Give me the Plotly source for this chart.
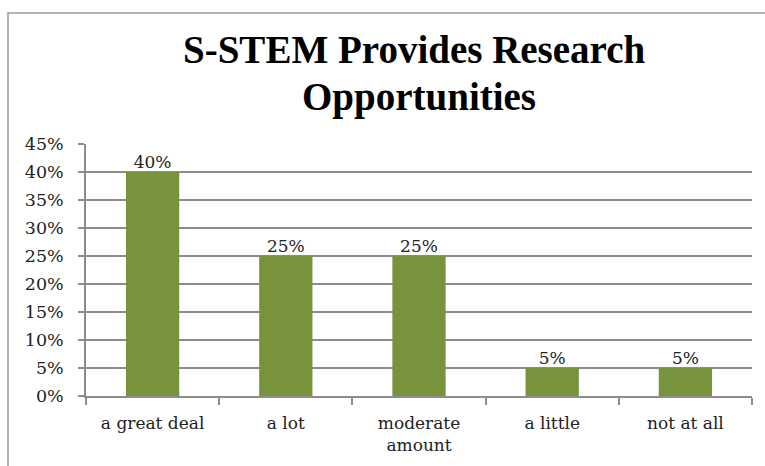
import plotly.graph_objects as go

categories = ["a great deal", "a lot", "moderate<br>amount", "a little", "not at all"]
values = [0.40, 0.25, 0.25, 0.05, 0.05]
labels = ["40%", "25%", "25%", "5%", "5%"]
tick_vals = [0, 0.05, 0.10, 0.15, 0.20, 0.25, 0.30, 0.35, 0.40, 0.45]
tick_text = ["0%", "5%", "10%", "15%", "20%", "25%", "30%", "35%", "40%", "45%"]
title_lines = ["S-STEM Provides Research", "Opportunities"]

W, H = 765, 466
ml, mr, mt, mb = 86, 13, 144, 70
pw, ph = W - ml - mr, H - mt - mb

FONT = "DejaVu Serif"

fig = go.Figure()
fig.add_trace(go.Bar(
    x=categories, y=values,
    marker=dict(color="#77933C", line=dict(width=0)),
    width=0.4, hoverinfo="skip",
))
fig.add_trace(go.Scatter(
    x=categories, y=values, text=labels, mode="text", textposition="top center",
    textfont=dict(family=FONT, size=17, color="#222"), cliponaxis=False,
))

def px_x(p):
    return (p - ml) / pw

def px_y(p):
    return (H - mb - p) / ph

title_centers = [(414, 49), (419, 97)]
annotations = [
    dict(text="<b>%s</b>" % t, xref="paper", yref="paper", x=px_x(cx), y=px_y(cy),
         xanchor="center", yanchor="middle", showarrow=False,
         font=dict(family="Liberation Serif", size=39, color="black"))
    for t, (cx, cy) in zip(title_lines, title_centers)
]

fig.update_layout(
    width=W, height=H,
    margin=dict(l=ml, r=mr, t=mt, b=mb),
    paper_bgcolor="white", plot_bgcolor="white",
    showlegend=False,
    annotations=annotations,
    xaxis=dict(showline=True, linecolor="#8c8c8c", linewidth=1.5, ticks="outside", ticklen=7,
               tickcolor="#8c8c8c", tickwidth=1.5, tickson="boundaries",
               tickfont=dict(family=FONT, size=17, color="#222"), showgrid=False,
               ticklabelstandoff=11),
    yaxis=dict(range=[0, 0.45], tickvals=tick_vals, ticktext=tick_text, showline=True,
               linecolor="#8c8c8c", linewidth=1.5, ticks="outside", ticklen=6, tickcolor="#8c8c8c",
               tickwidth=1.5, showgrid=True, gridcolor="#8c8c8c", gridwidth=1.5,
               tickfont=dict(family=FONT, size=17.5, color="#222"),
               ticklabelstandoff=11, zeroline=False),
    bargap=0.6,
    shapes=[dict(type="rect", xref="paper", yref="paper",
                 x0=px_x(8), x1=px_x(790), y0=px_y(490), y1=px_y(13),
                 line=dict(color="#9a9a9a", width=1.5), fillcolor="rgba(0,0,0,0)", layer="below")],
)

fig.write_html("out.html")
